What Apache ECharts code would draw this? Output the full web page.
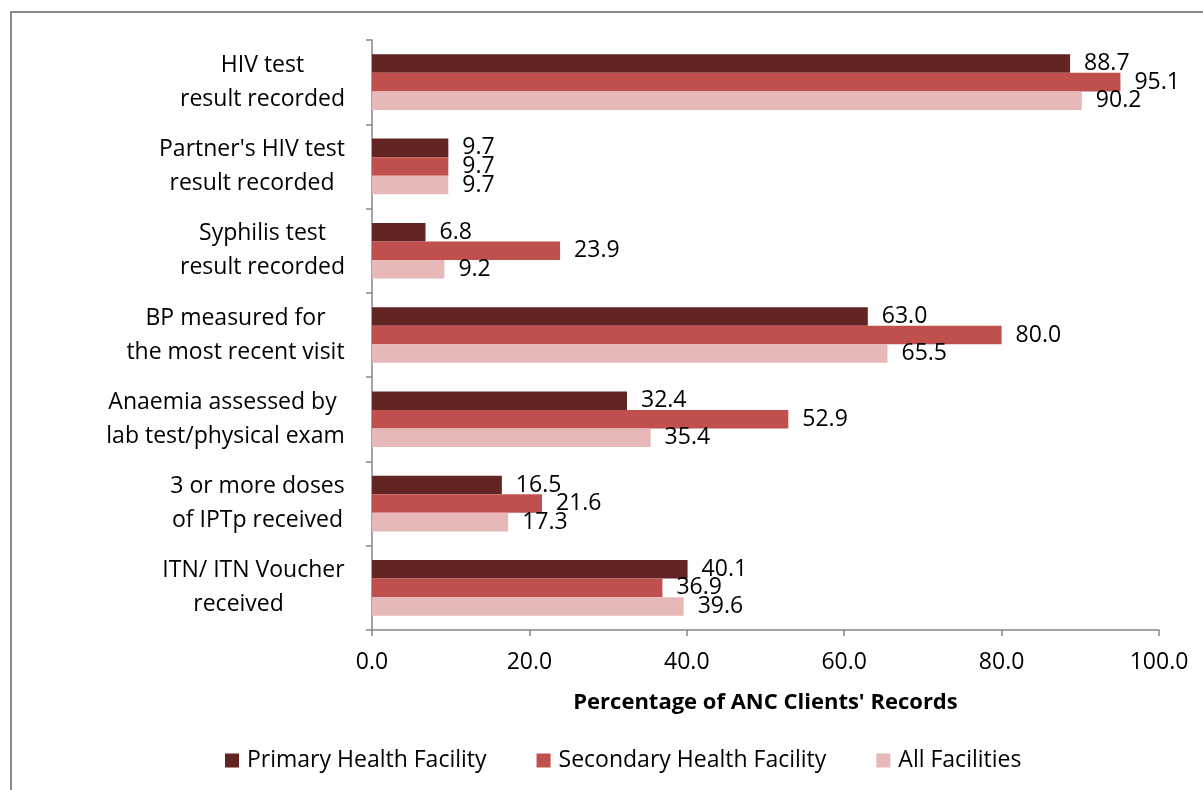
<!DOCTYPE html>
<html>
<head>
<meta charset="utf-8">
<script src="https://cdn.jsdelivr.net/npm/echarts@6/dist/echarts.min.js"></script>
<style>
  html, body { margin: 0; padding: 0; background: #fff; }
  #main { width: 1203px; height: 790px; }
</style>
</head>
<body>
<div id="main"></div>
<script>
// categories, top to bottom
var categories = [
  'HIV test\nresult recorded',
  "Partner's HIV test\nresult recorded",
  'Syphilis test\nresult recorded',
  'BP measured for\nthe most recent visit',
  'Anaemia assessed by \nlab test/physical exam',
  '3 or more doses\nof IPTp received',
  'ITN/ ITN Voucher\nreceived     '
];
var seriesNames = ['Primary Health Facility', 'Secondary Health Facility', 'All Facilities'];
var primary   = [88.7, 9.7, 6.8, 63.0, 32.4, 16.5, 40.1];
var secondary = [95.1, 9.7, 23.9, 80.0, 52.9, 21.6, 36.9];
var allFac    = [90.2, 9.7, 9.2, 65.5, 35.4, 17.3, 39.6];
var colors = ['#632523', '#c0504d', '#e6b9b8'];

var FONT = 'Open Sans';
var FS = 23;

// measure widest line of each label so lines can be centred inside a right-aligned block
var ctx = document.createElement('canvas').getContext('2d');
ctx.font = FS + 'px "' + FONT + '"';
var rich = {};
categories.forEach(function (c, i) {
  var w = 0;
  c.split('\n').forEach(function (l) { w = Math.max(w, ctx.measureText(l).width); });
  rich['c' + i] = { width: Math.ceil(w), align: 'center', fontSize: FS, fontFamily: FONT, color: '#000', lineHeight: 34 };
});

function makeSeries(name, data, color) {
  return {
    name: name,
    type: 'bar',
    data: data,
    itemStyle: { color: color },
    barGap: '0%',
    barCategoryGap: '34%',
    label: {
      show: true,
      position: 'right',
      distance: 14,
      color: '#000',
      fontSize: FS,
      fontFamily: FONT,
      formatter: function (p) { return p.value.toFixed(1); }
    }
  };
}

var chart = echarts.init(document.getElementById('main'));
chart.setOption({
  animation: false,
  textStyle: { fontFamily: FONT },
  graphic: [{
    type: 'rect',
    shape: { x: 11, y: 12, width: 1300, height: 900 },
    style: { fill: 'none', stroke: '#898989', lineWidth: 2 },
    silent: true
  }],
  grid: { left: 372, right: 44, top: 40, bottom: 160 },
  legend: {
    data: seriesNames,
    top: 744,
    left: 220,
    itemWidth: 14,
    itemHeight: 14,
    itemGap: 50,
    icon: 'rect',
    textStyle: { fontSize: FS, fontFamily: FONT, color: '#000', padding: [0, 0, 0, 3] }
  },
  xAxis: {
    type: 'value',
    min: 0,
    max: 100,
    interval: 20,
    name: "Percentage of ANC Clients' Records",
    nameLocation: 'middle',
    nameGap: 62,
    nameTextStyle: { fontSize: 22, fontWeight: 'bold', fontFamily: FONT, color: '#000' },
    axisLine: { show: true, lineStyle: { color: '#868686', width: 1.5 } },
    axisTick: { show: true, length: 6, lineStyle: { color: '#868686', width: 1.5 } },
    splitLine: { show: false },
    axisLabel: {
      margin: 21,
      fontSize: FS,
      fontFamily: FONT,
      color: '#000',
      formatter: function (v) { return v.toFixed(1); }
    }
  },
  yAxis: {
    type: 'category',
    data: categories,
    inverse: true,
    axisLine: { show: true, lineStyle: { color: '#868686', width: 1.5 } },
    axisTick: { show: true, length: 6, lineStyle: { color: '#868686', width: 1.5 } },
    axisLabel: {
      margin: 27,
      interval: 0,
      rich: rich,
      formatter: function (v, idx) {
        return v.split('\n').map(function (l) { return '{c' + idx + '|' + l + '}'; }).join('\n');
      }
    }
  },
  series: [
    makeSeries(seriesNames[0], primary, colors[0]),
    makeSeries(seriesNames[1], secondary, colors[1]),
    makeSeries(seriesNames[2], allFac, colors[2])
  ]
});
</script>
</body>
</html>
